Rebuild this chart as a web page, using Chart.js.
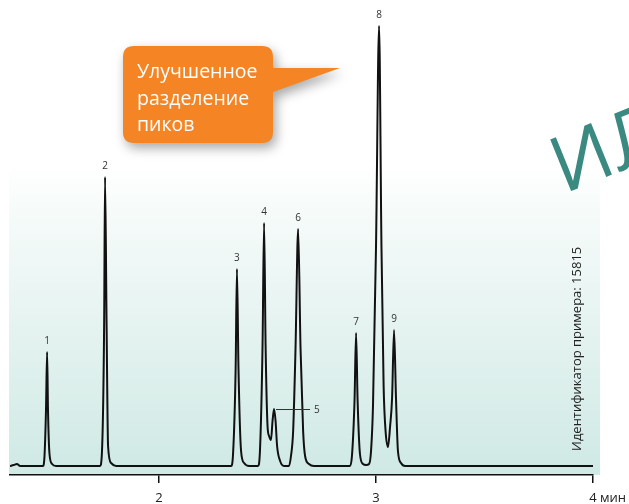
<!DOCTYPE html>
<html>
<head>
<meta charset="utf-8">
<script src="https://cdn.jsdelivr.net/npm/chart.js@4/dist/chart.umd.min.js"></script>
<style>
  html, body { margin: 0; padding: 0; background: #ffffff; }
  canvas { display: block; }
</style>
</head>
<body>
<canvas id="c" width="629" height="504" style="width:629px;height:504px"></canvas>
<script>
// ---- Data (retention time in min, detector signal in arbitrary units) ----
const rtMin = [
  1.313, 1.330, 1.345, 1.360, 1.465, 1.472, 1.479, 1.484, 1.488, 1.495, 1.507, 1.525,
  1.728, 1.737, 1.747, 1.751, 1.758, 1.765, 1.779, 1.802,
  2.332, 2.341, 2.353, 2.359, 2.366, 2.378, 2.392, 2.415,
  2.456, 2.465, 2.477, 2.484, 2.491, 2.500, 2.507, 2.516, 2.523, 2.530, 2.537, 2.544, 2.558, 2.576,
  2.599, 2.608, 2.618, 2.629, 2.641, 2.652, 2.664, 2.673, 2.691, 2.714,
  2.880, 2.889, 2.901, 2.908, 2.915, 2.926, 2.940, 2.954,
  2.968, 2.977, 2.986, 3.000, 3.014, 3.025, 3.035, 3.044, 3.055,
  3.065, 3.074, 3.083, 3.092, 3.101, 3.115, 3.134,
  3.500, 4.000
];
const signal = [
  0, 1, 2, 0, 0, 10, 57, 114, 57, 12, 2, 0,
  0, 15, 145, 289, 145, 20, 3, 0,
  0, 12, 98, 197, 98, 15, 3, 0,
  0, 15, 121, 243, 121, 40, 30, 26, 45, 57, 45, 20, 5, 0,
  0, 10, 35, 118, 237, 118, 35, 10, 2, 0,
  0, 10, 66, 133, 66, 12, 2, 1,
  2, 15, 60, 220, 440, 220, 80, 35, 19,
  40, 68, 136, 68, 15, 3, 0,
  0, 0
];
// Peak annotations
const peakLabels  = ['1', '2', '3', '4', '5', '6', '7', '8', '9'];
const peakTimes   = [1.484, 1.751, 2.359, 2.484, 2.530, 2.641, 2.908, 3.014, 3.083];
const peakHeights = [114, 289, 197, 243, 57, 237, 133, 440, 136];
// Axis ticks
const tickValues = [2, 3, 4];
const axisUnit = 'мин';
const calloutLines = ['Улучшенное', 'разделение', 'пиков'];
const sampleIdText = 'Идентификатор примера: 15815';
const watermarkText = 'ИЛ';

const FONT = '"Open Sans", "Noto Sans", sans-serif';

const bgPlugin = {
  id: 'bg',
  beforeDraw(chart) {
    const ctx = chart.ctx, a = chart.chartArea;
    ctx.save();
    const top = 165, bottom = a.bottom;
    const g = ctx.createLinearGradient(0, top, 0, bottom);
    g.addColorStop(0, '#ffffff');
    g.addColorStop(0.15, '#f6fbfa');
    g.addColorStop(1, '#cfe9e4');
    ctx.fillStyle = g;
    ctx.fillRect(a.left - 1, top, 600 - (a.left - 1), bottom - top);
    ctx.restore();
  }
};

const decoPlugin = {
  id: 'deco',
  afterDraw(chart) {
    const ctx = chart.ctx, xs = chart.scales.x, ys = chart.scales.y;
    ctx.save();

    // Peak labels
    ctx.fillStyle = '#333';
    ctx.font = '10px ' + FONT;
    ctx.textAlign = 'center';
    ctx.textBaseline = 'middle';
    peakLabels.forEach((lab, i) => {
      const px = xs.getPixelForValue(peakTimes[i]);
      const py = ys.getPixelForValue(peakHeights[i]);
      if (lab === '5') {
        ctx.strokeStyle = '#333';
        ctx.lineWidth = 1;
        ctx.beginPath();
        ctx.moveTo(px + 2, py + 0.5);
        ctx.lineTo(px + 36, py + 0.5);
        ctx.stroke();
        ctx.textAlign = 'left';
        ctx.fillText(lab, px + 40, py + 1);
        ctx.textAlign = 'center';
      } else {
        ctx.fillText(lab, px, py - 11);
      }
    });

    // Unit label next to last tick
    ctx.fillStyle = '#222';
    ctx.font = '13px ' + FONT;
    ctx.textAlign = 'left';
    ctx.textBaseline = 'middle';
    ctx.fillText(axisUnit, xs.getPixelForValue(4) + 7, 498);

    // Sample id (rotated)
    ctx.save();
    ctx.translate(581, 451);
    ctx.rotate(-Math.PI / 2);
    ctx.font = '13px ' + FONT;
    ctx.fillStyle = '#222';
    ctx.textAlign = 'left';
    ctx.textBaseline = 'alphabetic';
    ctx.fillText(sampleIdText, 0, 0);
    ctx.restore();

    // Watermark
    ctx.save();
    ctx.translate(564, 194);
    ctx.rotate(-22 * Math.PI / 180);
    ctx.font = '78px ' + FONT;
    ctx.fillStyle = '#3a8a81';
    ctx.textAlign = 'left';
    ctx.textBaseline = 'alphabetic';
    ctx.fillText(watermarkText, 0, 0);
    ctx.restore();

    // Callout
    ctx.save();
    const bx = 123, by = 46, bw = 150, bh = 97, r = 11;
    ctx.beginPath();
    ctx.moveTo(bx + r, by);
    ctx.lineTo(bx + bw - r, by);
    ctx.quadraticCurveTo(bx + bw, by, bx + bw, by + r);
    ctx.lineTo(bx + bw, by + 22);
    ctx.lineTo(340, 68);
    ctx.lineTo(bx + bw, by + 46);
    ctx.lineTo(bx + bw, by + bh - r);
    ctx.quadraticCurveTo(bx + bw, by + bh, bx + bw - r, by + bh);
    ctx.lineTo(bx + r, by + bh);
    ctx.quadraticCurveTo(bx, by + bh, bx, by + bh - r);
    ctx.lineTo(bx, by + r);
    ctx.quadraticCurveTo(bx, by, bx + r, by);
    ctx.closePath();
    ctx.shadowColor = 'rgba(0,0,0,0.35)';
    ctx.shadowBlur = 12;
    ctx.shadowOffsetX = 3;
    ctx.shadowOffsetY = 5;
    ctx.fillStyle = '#f58524';
    ctx.fill();
    ctx.restore();

    ctx.fillStyle = '#ffffff';
    ctx.font = '19.5px ' + FONT;
    ctx.textAlign = 'left';
    ctx.textBaseline = 'alphabetic';
    calloutLines.forEach((t, i) => ctx.fillText(t, 137, 78 + i * 26.5));

    ctx.restore();
  }
};

new Chart(document.getElementById('c'), {
  type: 'line',
  data: {
    datasets: [{
      data: rtMin.map((t, i) => ({ x: t, y: signal[i] })),
      borderColor: '#111111',
      borderWidth: 2,
      pointRadius: 0,
      fill: false,
      cubicInterpolationMode: 'monotone'
    }]
  },
  options: {
    responsive: false,
    animation: false,
    layout: { padding: { left: 10, right: 36, top: 20, bottom: 0 } },
    plugins: { legend: { display: false }, tooltip: { enabled: false } },
    scales: {
      x: {
        type: 'linear',
        min: 1.313,
        max: 4.0,
        afterBuildTicks: s => { s.ticks = tickValues.map(v => ({ value: v })); },
        afterFit: s => { s.height = 29; },
        ticks: {
          color: '#222',
          font: { family: FONT, size: 13 },
          padding: 7,
          maxRotation: 0,
          callback: v => String(v)
        },
        grid: { drawOnChartArea: false, drawTicks: true, tickLength: 8, color: '#111', lineWidth: 1.5 },
        border: { display: true, color: '#111', width: 1.5 }
      },
      y: { display: false, min: -9, max: 446 }
    }
  },
  plugins: [bgPlugin, decoPlugin]
});
</script>
</body>
</html>
